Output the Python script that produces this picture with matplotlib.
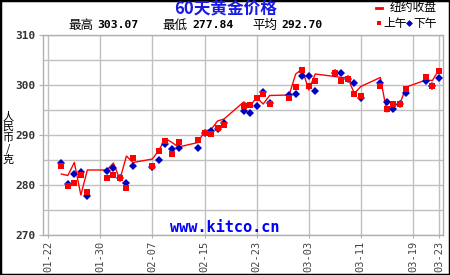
import matplotlib

matplotlib.use("Agg")
import matplotlib.dates as mdates
import matplotlib.pyplot as plt
import pandas as pd
from matplotlib.lines import Line2D
from matplotlib.patches import Rectangle

plt.rcParams["font.family"] = ["Noto Sans CJK SC", "DejaVu Sans"]
plt.rcParams["axes.unicode_minus"] = False

# trading days (Shanghai AM / PM and New York close)
dates = [
    "2011-01-24", "2011-01-25", "2011-01-26", "2011-01-27", "2011-01-28",
    "2011-01-31", "2011-02-01", "2011-02-02", "2011-02-03", "2011-02-04",
    "2011-02-07", "2011-02-08", "2011-02-09", "2011-02-10", "2011-02-11",
    "2011-02-14", "2011-02-15", "2011-02-16", "2011-02-17", "2011-02-18",
    "2011-02-21", "2011-02-22", "2011-02-23", "2011-02-24", "2011-02-25",
    "2011-02-28", "2011-03-01", "2011-03-02", "2011-03-03", "2011-03-04",
    "2011-03-07", "2011-03-08", "2011-03-09", "2011-03-10", "2011-03-11",
    "2011-03-14", "2011-03-15", "2011-03-16", "2011-03-17", "2011-03-18",
    "2011-03-21", "2011-03-22", "2011-03-23",
]
am_price = [
    283.8, 279.8, 280.5, 282.0, 278.7,
    281.5, 282.0, 281.5, 279.5, 285.4,
    283.9, 286.9, 288.9, 286.1, 288.6,
    289.0, 290.4, 290.2, 291.5, 292.0,
    295.8, 296.0, 297.5, 298.1, 296.1,
    297.5, 299.6, 303.07, 299.9, 300.8,
    302.5, 300.8, 301.3, 298.2, 297.9,
    299.9, 295.3, 296.1, 296.3, 299.3,
    301.7, 299.9, 302.9,
]
pm_price = [
    284.5, 280.2, 282.2, 282.7, 277.84,
    282.8, 283.4, 281.5, 280.5, 283.8,
    283.6, 285.0, 288.3, 287.3, 287.5,
    287.4, 290.4, 290.9, 291.1, 292.4,
    294.9, 294.5, 295.8, 298.7, 296.5,
    298.0, 298.3, 301.8, 301.8, 298.9,
    302.5, 302.5, 301.3, 300.5, 297.5,
    300.5, 296.7, 295.3, 296.3, 298.5,
    300.9, 299.9, 301.5,
]
ny_close = [
    282.2, 281.9, 284.5, 278.0, 283.0,
    283.0, 284.4, 281.1, 285.8, 284.5,
    285.2, 287.0, 289.3, 288.5, 287.6,
    288.5, 290.8, 291.1, 292.8, 293.2,
    296.6, 295.8, 297.5, 296.2, 297.9,
    298.0, 302.2, 303.2, 299.0, 302.2,
    301.7, 301.5, 301.5, 298.3, 299.7,
    301.5, 294.6, 295.8, 296.3, 299.6,
    301.0, 300.9, 303.1,
]
tick_dates = ["2011-01-22", "2011-01-30", "2011-02-07", "2011-02-15",
              "2011-02-23", "2011-03-03", "2011-03-11", "2011-03-19",
              "2011-03-23"]
stat_high, stat_low, stat_avg = "303.07", "277.84", "292.70"

x = pd.to_datetime(dates)
ticks = pd.to_datetime(tick_dates)

fig = plt.figure(figsize=(4.5, 2.75), dpi=100)
ax = fig.add_axes([43 / 450, 40 / 275, 400 / 450, 200 / 275])

ax.plot(x, ny_close, color="#ff0000", lw=1.0, zorder=2)
ax.plot(x, pm_price, ls="none", marker="D", ms=4.2, mew=0, color="#0000c0",
        zorder=3)
ax.plot(x, am_price, ls="none", marker="s", ms=5.0, mew=0, color="#ff0000",
        zorder=4)

ax.set_xlim(ticks[0] - pd.Timedelta(hours=19.5), ticks[-1] + pd.Timedelta(hours=15))
ax.set_ylim(270, 310)
ax.set_yticks(range(270, 311, 10))
ax.set_yticks(range(275, 310, 10), minor=True)
ax.set_xticks(ticks)
ax.xaxis.set_major_formatter(mdates.DateFormatter("%m-%d"))
ax.grid(True, which="both", color="#c0c0c0", lw=1.0)
ax.set_axisbelow(True)
for s in ax.spines.values():
    s.set_color("#b0b0b0")
    s.set_linewidth(1.0)
ax.tick_params(axis="y", which="major", length=3, color="#b0b0b0", pad=2,
               labelsize=8, labelcolor="#333333")
ax.tick_params(axis="y", which="minor", length=0)
ax.tick_params(axis="x", length=2, color="#b0b0b0", pad=2, labelsize=7.5,
               labelcolor="#444444", rotation=90)
for lab in ax.get_yticklabels():
    lab.set_family("DejaVu Sans Mono")
    lab.set_fontweight("bold")
for lab in ax.get_xticklabels():
    lab.set_family("DejaVu Sans Mono")

fig.text(225 / 450, 1 - 228 / 275, "www.kitco.cn", ha="center", va="center",
         fontsize=11, fontweight="bold", color="#0000ff",
         family="DejaVu Sans Mono", zorder=1)

fig.text(8 / 450, 1 - 138 / 275, "\n".join("人民币/克"), ha="center",
         va="center", fontsize=8, linespacing=1.05)

# header
fig.text(226 / 450, 1 - 10 / 275, "60天黄金价格", ha="center", va="center",
         fontsize=12, fontweight="bold", color="#1a1ae6")
yrow = 1 - 25 / 275
for xl, label, xv, val in [(68, "最高", 97, stat_high), (162, "最低", 192, stat_low),
                           (252, "平均", 281, stat_avg)]:
    fig.text(xl / 450, yrow, label, ha="left", va="center", fontsize=9)
    fig.text(xv / 450, yrow, val, ha="left", va="center", fontsize=8.2,
             fontweight="bold", family="DejaVu Sans Mono")

# legend
fig.add_artist(Line2D([376 / 450, 382 / 450], [1 - 8 / 275] * 2, color="#ff0000",
                      lw=2, transform=fig.transFigure))
fig.text(390 / 450, 1 - 8 / 275, "纽约收盘", ha="left", va="center", fontsize=8.5)
fig.add_artist(Line2D([379 / 450], [1 - 23 / 275], marker="s", ms=3.5, mew=0,
                      color="#ff0000", transform=fig.transFigure))
fig.text(383 / 450, 1 - 23 / 275, "上午", ha="left", va="center", fontsize=8.5)
fig.add_artist(Line2D([409 / 450], [1 - 23 / 275], marker="D", ms=3.5, mew=0,
                      color="#0000c0", transform=fig.transFigure))
fig.text(413 / 450, 1 - 23 / 275, "下午", ha="left", va="center", fontsize=8.5)

fig.add_artist(Rectangle((0, 0), 1, 1, transform=fig.transFigure, fill=False,
                         ec="black", lw=2.5))

fig.savefig("out.png", dpi=100, facecolor="white")
